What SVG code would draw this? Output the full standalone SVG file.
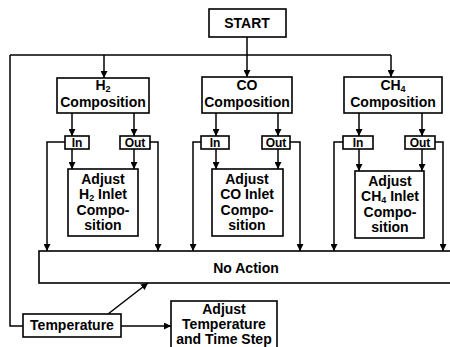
<svg xmlns="http://www.w3.org/2000/svg" width="450" height="347" viewBox="0 0 450 347">
<defs>
<style>
.b{fill:#fff;stroke:#000;stroke-width:1.6}
.t{font-family:"Liberation Sans",Arial,sans-serif;font-weight:bold;font-size:14px;text-anchor:middle;fill:#000}
.io{font-size:12px}
.s{font-size:9px}
.c{fill:none;stroke:#000;stroke-width:1.5}
</style>
<marker id="a" viewBox="0 0 10 10" refX="10" refY="5" markerWidth="7" markerHeight="7" markerUnits="userSpaceOnUse" orient="auto"><path d="M0,0 L10,5 L0,10 z" fill="#000"/></marker>
</defs>
<rect width="450" height="347" fill="#fff"/>
<g id="connectors">
<path class="c" d="M247,37 V55 M10,55 H391"/>
<path class="c" marker-end="url(#a)" d="M104,55 V78"/>
<path class="c" marker-end="url(#a)" d="M247,55 V77"/>
<path class="c" marker-end="url(#a)" d="M391,55 V77"/>
<path class="c" marker-end="url(#a)" d="M72,113 V136"/>
<path class="c" marker-end="url(#a)" d="M134,113 V136"/>
<path class="c" marker-end="url(#a)" d="M216,113 V136"/>
<path class="c" marker-end="url(#a)" d="M278,113 V136"/>
<path class="c" marker-end="url(#a)" d="M359,113 V136"/>
<path class="c" marker-end="url(#a)" d="M422,113 V136"/>
<path class="c" marker-end="url(#a)" d="M72,149 V169"/>
<path class="c" marker-end="url(#a)" d="M134,149 V169"/>
<path class="c" marker-end="url(#a)" d="M216,149 V169"/>
<path class="c" marker-end="url(#a)" d="M278,149 V169"/>
<path class="c" marker-end="url(#a)" d="M359,149 V171"/>
<path class="c" marker-end="url(#a)" d="M422,149 V171"/>
<path class="c" marker-end="url(#a)" d="M65,142 H47 V251"/>
<path class="c" marker-end="url(#a)" d="M150,142 H158 V251"/>
<path class="c" marker-end="url(#a)" d="M201,142 H193 V251"/>
<path class="c" marker-end="url(#a)" d="M290,142 H300 V251"/>
<path class="c" marker-end="url(#a)" d="M343,142 H334 V251"/>
<path class="c" marker-end="url(#a)" d="M435,142 H443 V251"/>
<path class="c" d="M10,55 V326 H23"/>
<path class="c" marker-end="url(#a)" d="M108,314 L148,283"/>
<path class="c" marker-end="url(#a)" d="M121,326 H171"/>
</g>
<g id="start"><rect class="b" x="209" y="9" width="77" height="28"/><text class="t" x="247" y="28">START</text></g>
<g id="h2comp"><rect class="b" x="57" y="78" width="92" height="35"/><text class="t" x="103" y="90">H<tspan class="s" dy="2">2</tspan></text><text class="t" x="103" y="107">Composition</text></g>
<g id="cocomp"><rect class="b" x="202" y="77" width="90" height="36"/><text class="t" x="247" y="90">CO</text><text class="t" x="247" y="107">Composition</text></g>
<g id="ch4comp"><rect class="b" x="344" y="77" width="98" height="36"/><text class="t" x="393" y="90">CH<tspan class="s" dy="2">4</tspan></text><text class="t" x="393" y="107">Composition</text></g>
<g id="h2in"><rect class="b" x="65" y="136" width="24" height="13"/><text class="t io" x="77" y="147">In</text></g>
<g id="h2out"><rect class="b" x="120" y="136" width="30" height="13"/><text class="t io" x="135" y="147">Out</text></g>
<g id="coin"><rect class="b" x="201" y="136" width="28" height="13"/><text class="t io" x="215" y="147">In</text></g>
<g id="coout"><rect class="b" x="262" y="136" width="28" height="13"/><text class="t io" x="276" y="147">Out</text></g>
<g id="ch4in"><rect class="b" x="343" y="136" width="30" height="13"/><text class="t io" x="358" y="147">In</text></g>
<g id="ch4out"><rect class="b" x="405" y="136" width="30" height="13"/><text class="t io" x="420" y="147">Out</text></g>
<g id="h2adj"><rect class="b" x="68" y="169" width="70" height="67"/><text class="t" x="103" y="184">Adjust</text><text class="t" x="103" y="199">H<tspan class="s" dy="2">2</tspan><tspan dy="-2"> Inlet</tspan></text><text class="t" x="103" y="215">Compo-</text><text class="t" x="103" y="230">sition</text></g>
<g id="coadj"><rect class="b" x="212" y="169" width="71" height="67"/><text class="t" x="247" y="184">Adjust</text><text class="t" x="247" y="199">CO Inlet</text><text class="t" x="247" y="215">Compo-</text><text class="t" x="247" y="230">sition</text></g>
<g id="ch4adj"><rect class="b" x="355" y="171" width="69" height="67"/><text class="t" x="390" y="186">Adjust</text><text class="t" x="390" y="201">CH<tspan class="s" dy="2">4</tspan><tspan dy="-2"> Inlet</tspan></text><text class="t" x="390" y="217">Compo-</text><text class="t" x="390" y="232">sition</text></g>
<g id="noaction"><rect class="b" x="39" y="251" width="420" height="32"/><text class="t" x="246" y="273">No Action</text></g>
<g id="temperature"><rect class="b" x="23" y="314" width="98" height="23"/><text class="t" x="72" y="330">Temperature</text></g>
<g id="adjtemp"><rect class="b" x="171" y="301" width="106" height="52"/><text class="t" x="224" y="314">Adjust</text><text class="t" x="224" y="329">Temperature</text><text class="t" x="224" y="344">and Time Step</text></g>
</svg>
